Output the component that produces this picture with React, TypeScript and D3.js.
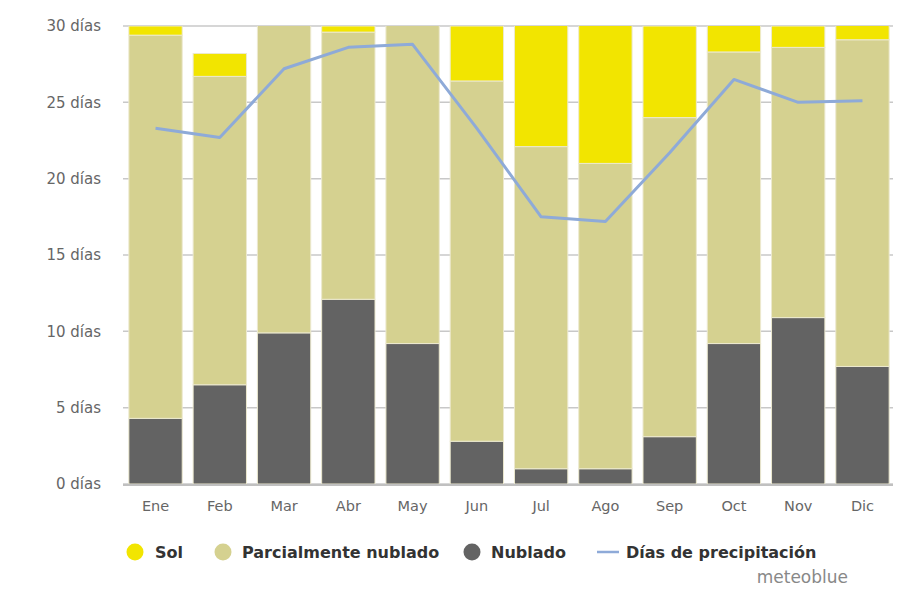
import React from "react";
import * as d3 from "d3";

const months = ["Ene", "Feb", "Mar", "Abr", "May", "Jun", "Jul", "Ago", "Sep", "Oct", "Nov", "Dic"];
const nublado = [4.3, 6.5, 9.9, 12.1, 9.2, 2.8, 1.0, 1.0, 3.1, 9.2, 10.9, 7.7];
const parcial = [25.1, 20.2, 21.1, 17.5, 21.8, 23.6, 21.1, 20.0, 20.9, 19.1, 17.7, 21.4];
const sol = [0.6, 1.5, 0.0, 0.4, 0.0, 3.6, 8.9, 10.0, 6.0, 2.7, 1.4, 1.9];
const precip = [23.3, 22.7, 27.2, 28.6, 28.8, 23.3, 17.5, 17.2, 21.7, 26.5, 25.0, 25.1];
const yTicks = [0, 5, 10, 15, 20, 25, 30];

const W = 909;
const H = 589;
const left = 125;
const right = 893;
const top = 26;
const bottom = 484;

const C_SOL = "#f2e500";
const C_PARC = "#d5d190";
const C_NUB = "#636363";
const C_LINE = "#8eaad8";
const FONT = "'DejaVu Sans', sans-serif";

export default function App() {
  const x = d3.scaleBand<string>().domain(months).range([left, right]).paddingInner(0.17).paddingOuter(0.06);
  const y = d3.scaleLinear().domain([0, 30]).range([bottom, top]);

  const series = [
    { key: "nub", values: nublado, color: C_NUB },
    { key: "parc", values: parcial, color: C_PARC },
    { key: "sol", values: sol, color: C_SOL },
  ];

  const rects: React.ReactNode[] = [];
  months.forEach((m, i) => {
    let base = 0;
    series.forEach((s) => {
      const v = s.values[i];
      if (v > 0) {
        const y0 = y(base);
        const y1 = y(base + v);
        rects.push(
          <rect
            key={m + s.key}
            x={x(m)}
            y={y1}
            width={x.bandwidth()}
            height={y0 - y1}
            fill={s.color}
            stroke="#ece9cf"
            strokeWidth={1}
          />
        );
      }
      base += v;
    });
  });

  const line = d3
    .line<number>()
    .x((_, i) => (x(months[i]) as number) + x.bandwidth() / 2)
    .y((d) => y(d));

  return (
    <svg width={W} height={H} style={{ position: "absolute", left: 0, top: 0, background: "#fff" }}>
      <defs>
        <clipPath id="plotclip">
          <rect x={left} y={top} width={right - left} height={bottom - top} />
        </clipPath>
      </defs>
      {yTicks.map((t) => (
        <g key={t}>
          <line x1={left - 2} x2={right} y1={y(t)} y2={y(t)} stroke="#c8c8c8" strokeWidth={1.5} />
          <text x={101} y={y(t)} dy="0.35em" textAnchor="end" fontFamily={FONT} fontSize={15} fill="#666">
            {t} días
          </text>
        </g>
      ))}
      <g clipPath="url(#plotclip)">{rects}</g>
      <line x1={left - 2} x2={right} y1={bottom + 1} y2={bottom + 1} stroke="#c0c0c0" strokeWidth={2} />
      <path d={line(precip) || ""} fill="none" stroke={C_LINE} strokeWidth={3} strokeLinejoin="round" />
      {months.map((m) => (
        <text
          key={m}
          x={(x(m) as number) + x.bandwidth() / 2}
          y={511}
          textAnchor="middle"
          fontFamily={FONT}
          fontSize={14.5}
          fill="#666"
        >
          {m}
        </text>
      ))}
      <g fontFamily={FONT} fontSize={16} fontWeight="bold" fill="#333">
        <circle cx={135} cy={552} r={8.5} fill={C_SOL} />
        <text x={155} y={558}>Sol</text>
        <circle cx={223} cy={552} r={8.5} fill={C_PARC} />
        <text x={242} y={558}>Parcialmente nublado</text>
        <circle cx={472} cy={552} r={8.5} fill={C_NUB} />
        <text x={491} y={558}>Nublado</text>
        <line x1={597} x2={619} y1={552} y2={552} stroke={C_LINE} strokeWidth={2.5} />
        <text x={626} y={558}>Días de precipitación</text>
      </g>
      <text x={848} y={583} textAnchor="end" fontFamily={FONT} fontSize={17} fill="#888">
        meteoblue
      </text>
    </svg>
  );
}
